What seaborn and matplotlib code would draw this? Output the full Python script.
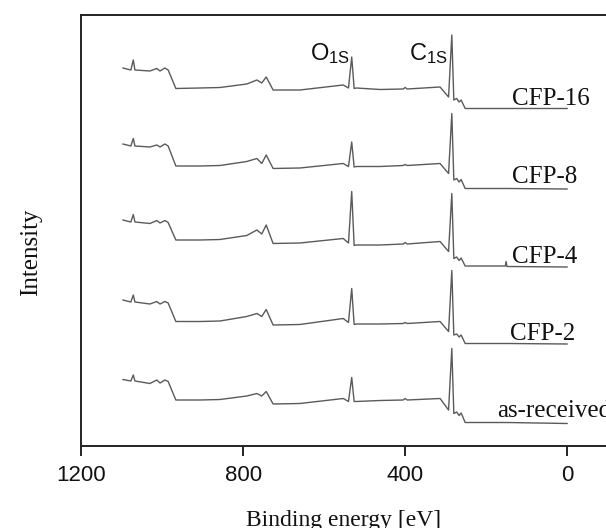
import matplotlib
matplotlib.use("Agg")
import seaborn as sns
import numpy as np
import pandas as pd
import matplotlib.pyplot as plt

sns.set_theme(style="white")
plt.rcParams['font.family'] = ['Liberation Serif', 'DejaVu Serif']

# binding energy of the traced points (eV)
energy = [1097, 1077, 1071, 1067, 1030, 1013, 1005, 993, 985, 966, 906, 857, 791,
          766, 754, 743, 726, 660, 553, 540, 532, 526, 521, 462, 405, 400, 395,
          314, 293, 285, 280, 273, 267, 262, 252, 153, 151, 149, 0]

# intensity of each sample, already stacked with its offset (a.u.)
cfp16 = [378, 376, 386, 376, 375, 377.5, 375, 378, 376, 357.5, 358, 358.5, 362,
         366, 363, 369, 356, 356, 361, 358, 389, 357.5, 358, 356.5, 357, 358.5, 357,
         359, 349, 411, 346, 347.5, 344, 346, 337.5, 337.5, 337.5, 337.5, 337.5]
cfp8 = [302, 300, 307.5, 300, 299, 301, 299, 302, 300, 280, 280, 280.5, 284.5,
        287.5, 282.5, 291, 277.5, 278, 282.5, 279.5, 304, 279, 279.5, 279.5, 280.5, 281.5, 280.5,
        282.5, 272.5, 332.5, 266, 267.5, 264, 266.5, 257.5, 257.5, 257.5, 257.5, 257]
cfp4 = [226, 224, 231.5, 224, 222.5, 225.5, 223, 225.5, 223.5, 206, 206, 206.5, 210.5,
        216, 212, 221, 202.5, 203, 207.5, 203, 254.5, 200.5, 201, 201, 202, 203.5, 202,
        204.5, 194.5, 252.5, 187.5, 189, 185.5, 188, 180, 180, 184.5, 179.5, 179]
cfp2 = [146, 144, 151, 144, 142, 144.5, 142, 144.5, 143, 124.5, 124.5, 125, 129.5,
        132.5, 129.5, 136.5, 121, 121.5, 127.5, 123.5, 157.5, 121.5, 122, 122, 122.5, 123.5, 122.5,
        124.5, 114.5, 175.5, 111, 112, 109, 111, 102.5, 102.5, 102.5, 102.5, 102]
as_received = [66.5, 65, 71, 65, 62.5, 66, 63, 66, 64.5, 46, 46, 46.5, 50,
               52.5, 50, 54.5, 42, 42.5, 47.5, 44.5, 68.5, 44.5, 44.5, 45.5, 46, 47.5, 46,
               47.5, 36, 97.5, 32.5, 34, 30.5, 33, 23.5, 23.5, 23.5, 23.5, 22.5]

samples = ["CFP-16", "CFP-8", "CFP-4", "CFP-2", "as-received"]
series = [cfp16, cfp8, cfp4, cfp2, as_received]

df = pd.concat([pd.DataFrame({"energy": energy, "intensity": s, "sample": name})
                for name, s in zip(samples, series)], ignore_index=True)

fig = plt.figure(figsize=(6.06, 5.28), dpi=100)
ax = fig.add_axes([0.1337, 0.1553, 1 - 0.1337, 0.8163])

sns.lineplot(data=df, x="energy", y="intensity", hue="sample", units="sample",
             estimator=None, palette=["#5a5a5a"] * 5, linewidth=1.0,
             legend=False, ax=ax)

ax.set_xlim(1200, -95.5)
ax.set_ylim(0, 431)
ax.set_xticks([1200, 800, 400, 0])
ax.set_yticks([])
ax.tick_params(axis="x", direction="out", length=7, width=1.4, color="#222222",
               pad=7, labelsize=16, bottom=True)
for lab in ax.get_xticklabels():
    lab.set_family(["Liberation Sans", "DejaVu Sans"])
    lab.set_color("#111111")

for side in ["left", "bottom", "top"]:
    ax.spines[side].set_linewidth(1.4)
    ax.spines[side].set_color("#222222")
ax.spines["right"].set_visible(False)

ax.set_xlabel("Binding energy [eV]", fontsize=17, color="#111111", labelpad=17)
ax.set_ylabel("Intensity", fontsize=18, color="#111111")
ax.yaxis.set_label_coords(-0.074, 0.449)

# sample names at the right end of each trace
label_pos = {"CFP-16": (137, 341), "CFP-8": (137, 262.7), "CFP-4": (137, 182.7),
             "CFP-2": (141, 106), "as-received": (173.5, 29)}
for name, (lx, ly) in label_pos.items():
    ax.text(lx, ly, name, fontsize=18, color="#111111", ha="left", va="baseline")

# peak assignments
for txt, lx in [(r"$\mathregular{O_{1S}}$", 635), (r"$\mathregular{C_{1S}}$", 390.6)]:
    ax.text(lx, 386, txt, fontsize=17, color="#111111", ha="left", va="baseline",
            family=["Liberation Sans", "DejaVu Sans"])

fig.savefig("out.png", dpi=100)
